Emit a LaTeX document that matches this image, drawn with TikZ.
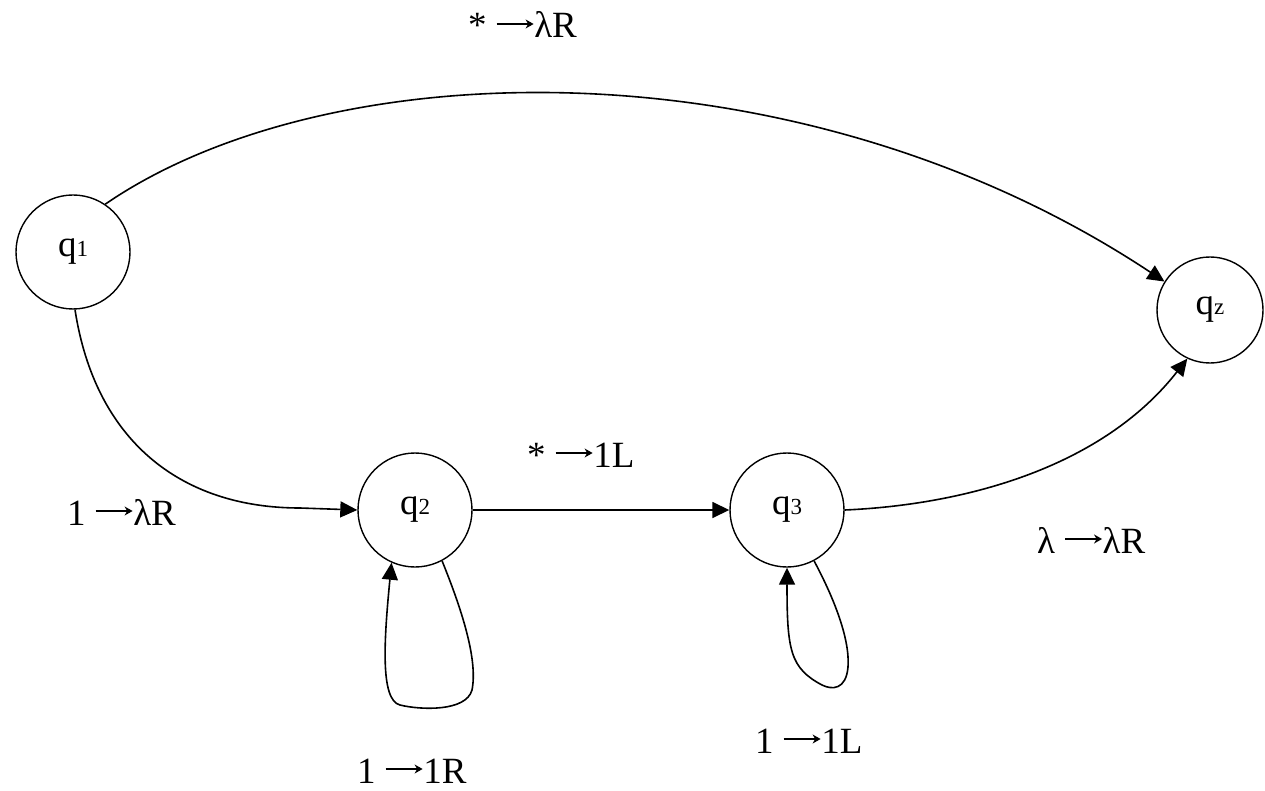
\documentclass[tikz,border=0pt]{standalone}
\usepackage{fontspec}
\setmainfont{Liberation Serif}
\usetikzlibrary{arrows.meta}
\tikzset{
  state/.style={draw, circle, line width=1.4pt, inner sep=0pt, minimum size=114pt, font=\fontsize{37}{40}\selectfont},
  conn/.style={line width=1.6pt, -{Triangle[length=17pt,width=16pt]}},
  lbl/.style={anchor=base west, inner sep=0pt, font=\fontsize{37}{40}\selectfont},
  txtarrow/.style={line width=1.3pt, -{Stealth[length=8pt,width=9pt]}},
}
\newcommand{\stsub}[1]{{\fontsize{23}{23}\selectfont #1}}
\newcommand{\ar}{\tikz[baseline=0pt,x=1pt,y=1pt]{\draw[txtarrow] (0,14) -- (37,14);}}
\begin{document}
\begin{tikzpicture}[x=1pt,y=-1pt]
\useasboundingbox[fill=white] (0,0) rectangle (1265,791);
\node[state] (q1) at (73,252) {q\stsub{1}};
\node[state, minimum size=106pt] (qz) at (1210,310) {q\stsub{z}};
\node[state] (q2) at (415,510) {q\stsub{2}};
\node[state] (q3) at (787,510) {q\stsub{3}};

\draw[conn] (q1.56) .. controls (330,50) and (800,40) .. (qz.148);
\draw[conn] (q1.272) .. controls (95,440) and (180,508) .. (300,508) -- (q2.west);
\draw[conn] (q2.east) -- (q3.west);
\draw[conn] (q3.east) .. controls (960,505) and (1100,470) .. (qz.245);
\draw[conn] (q2.-62) .. controls (462,610) and (478,660) .. (472,690)
  .. controls (466,712) and (420,710) .. (400,705)
  .. controls (380,700) and (384,640) .. (q2.-114);
\draw[conn] (q3.-62) .. controls (835,600) and (850,640) .. (848,667)
  .. controls (846,690) and (832,690) .. (822,685)
  .. controls (790,668) and (787,650) .. (q3.south);

\node[lbl] (l1) at (468,38) {* \ar λR};
\node[lbl] (l2) at (67,525) {1 \ar λR};
\node[lbl] (l3) at (527,467) {* \ar 1L};
\node[lbl] (l4) at (1037,553) {λ \ar λR};
\node[lbl] (l5) at (357,783) {1 \ar 1R};
\node[lbl] (l6) at (755,753) {1 \ar 1L};
\end{tikzpicture}
\end{document}
